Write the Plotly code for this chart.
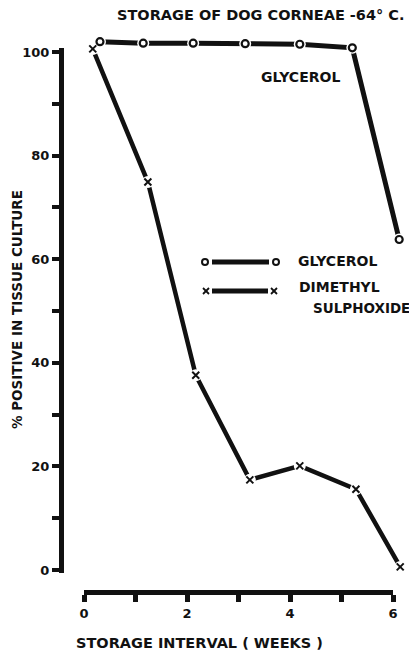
import plotly.graph_objects as go

# ---------------- data ----------------
weeks_glycerol = [0.31, 1.15, 2.12, 3.13, 4.19, 5.21, 6.12]
pct_glycerol = [102.0, 101.7, 101.7, 101.6, 101.5, 100.8, 63.8]

weeks_dmso = [0.17, 1.24, 2.17, 3.22, 4.19, 5.28, 6.14]
pct_dmso = [100.6, 74.9, 37.6, 17.4, 20.1, 15.6, 0.6]

x_tick_vals = [0, 1, 2, 3, 4, 5, 6]
x_tick_text = ["0", "", "2", "", "4", "", "6"]
y_tick_vals = [0, 10, 20, 30, 40, 50, 60, 70, 80, 90, 100]
y_tick_text = ["0", "", "20", "", "40", "", "60", "", "80", "", "100"]

title_text = "STORAGE OF DOG CORNEAE -64° C."
x_title = "STORAGE INTERVAL ( WEEKS )"
y_title = "% POSITIVE IN TISSUE CULTURE"

# ---------------- layout helpers ----------------
OFF = 8                      # page body margin
W, H = 417 - OFF, 652 - OFF  # figure size
X0, XS = 84.0, 51.5          # window pixel of week 0, pixels per week
Y0, YS = 570.0, 5.18         # window pixel of 0 %, pixels per %


def px(x):
    return (x - OFF) / W


def py(y):
    return 1 - (y - OFF) / H


FONT = "DejaVu Sans"
BLACK = "#111111"


def bold(size):
    return dict(family=FONT, size=size, color=BLACK, weight="bold")


fig = go.Figure()

# line traces
fig.add_trace(go.Scatter(x=weeks_glycerol, y=pct_glycerol, mode="lines",
                         line=dict(color=BLACK, width=5), hoverinfo="skip", showlegend=False))
fig.add_trace(go.Scatter(x=weeks_dmso, y=pct_dmso, mode="lines",
                         line=dict(color=BLACK, width=4.5), hoverinfo="skip", showlegend=False))
# white masks producing the gaps around markers
for xs, ys in ((weeks_glycerol, pct_glycerol), (weeks_dmso, pct_dmso)):
    fig.add_trace(go.Scatter(x=xs, y=ys, mode="markers",
                             marker=dict(symbol="circle", size=12, color="white", line=dict(width=0)),
                             hoverinfo="skip", showlegend=False, cliponaxis=False))
# markers
fig.add_trace(go.Scatter(x=weeks_glycerol, y=pct_glycerol, mode="markers", name="GLYCEROL",
                         marker=dict(symbol="circle-open", size=7, color=BLACK, line=dict(width=2.2, color=BLACK)),
                         showlegend=False, cliponaxis=False))
fig.add_trace(go.Scatter(x=weeks_dmso, y=pct_dmso, mode="markers", name="DIMETHYL SULPHOXIDE",
                         marker=dict(symbol="x-thin-open", size=7, color=BLACK, line=dict(width=2, color=BLACK)),
                         showlegend=False, cliponaxis=False))
# dummy trace so the visible axes are drawn
fig.add_trace(go.Scatter(x=[None], y=[None], xaxis="x2", yaxis="y2", showlegend=False, hoverinfo="skip"))

fig.update_layout(
    width=W, height=H,
    margin=dict(l=0, r=0, t=0, b=0),
    paper_bgcolor="white", plot_bgcolor="rgba(0,0,0,0)",
    showlegend=False,
    xaxis=dict(domain=[0, 1], range=[(OFF - X0) / XS, (OFF + W - X0) / XS], visible=False, fixedrange=True),
    yaxis=dict(domain=[0, 1], range=[(Y0 - OFF - H) / YS, (Y0 - OFF) / YS], visible=False, fixedrange=True),
    xaxis2=dict(domain=[px(X0), px(X0 + 6 * XS)], range=[0, 6], anchor="free", position=py(592),
                showline=True, linewidth=5, linecolor=BLACK, showgrid=False, zeroline=False,
                ticks="outside", ticklen=7, tickwidth=5, tickcolor=BLACK,
                tickvals=x_tick_vals, ticktext=x_tick_text, tickfont=bold(13), automargin=False),
    yaxis2=dict(domain=[py(573), py(48)], range=[(Y0 - 573) / YS, (Y0 - 48) / YS], anchor="free",
                position=px(61), side="left",
                showline=True, linewidth=5, linecolor=BLACK, showgrid=False, zeroline=False,
                ticks="outside", ticklen=7, tickwidth=4, tickcolor=BLACK,
                tickvals=y_tick_vals, ticktext=y_tick_text, tickfont=bold(13), automargin=False),
)

# legend sample shapes (paper coords)
shapes = []
shapes.append(dict(type="line", xref="paper", yref="paper", x0=px(212), x1=px(269), y0=py(262), y1=py(262),
                   line=dict(color=BLACK, width=5)))
for cx in (205, 276):
    shapes.append(dict(type="circle", xref="paper", yref="paper", x0=px(cx - 3), x1=px(cx + 3),
                       y0=py(262 + 3), y1=py(262 - 3), line=dict(color=BLACK, width=2)))
shapes.append(dict(type="line", xref="paper", yref="paper", x0=px(212), x1=px(268), y0=py(291), y1=py(291),
                   line=dict(color=BLACK, width=5)))
for cx in (206, 274):
    for d in (1, -1):
        shapes.append(dict(type="line", xref="paper", yref="paper", x0=px(cx - 3), x1=px(cx + 3),
                           y0=py(291 - 3 * d), y1=py(291 + 3 * d), line=dict(color=BLACK, width=1.8)))
fig.update_layout(shapes=shapes)

ann = [
    dict(text=title_text, x=px(261), y=py(15), font=bold(14.5), xanchor="center", yanchor="middle"),
    dict(text="GLYCEROL", x=px(300), y=py(77), font=bold(14), xanchor="center", yanchor="middle"),
    dict(text="GLYCEROL", x=px(296), y=py(261), font=bold(14), xanchor="left", yanchor="middle"),
    dict(text="DIMETHYL", x=px(297), y=py(287), font=bold(14), xanchor="left", yanchor="middle"),
    dict(text="SULPHOXIDE", x=px(311), y=py(308), font=bold(13.5), xanchor="left", yanchor="middle"),
    dict(text=x_title, x=px(199), y=py(643), font=bold(14.5), xanchor="center", yanchor="middle"),
    dict(text=y_title, x=px(17), y=py(310), font=bold(13.5), xanchor="center", yanchor="middle", textangle=-90),
]
for a in ann:
    a.update(xref="paper", yref="paper", showarrow=False)
fig.update_layout(annotations=ann)

fig.write_html("out.html")
